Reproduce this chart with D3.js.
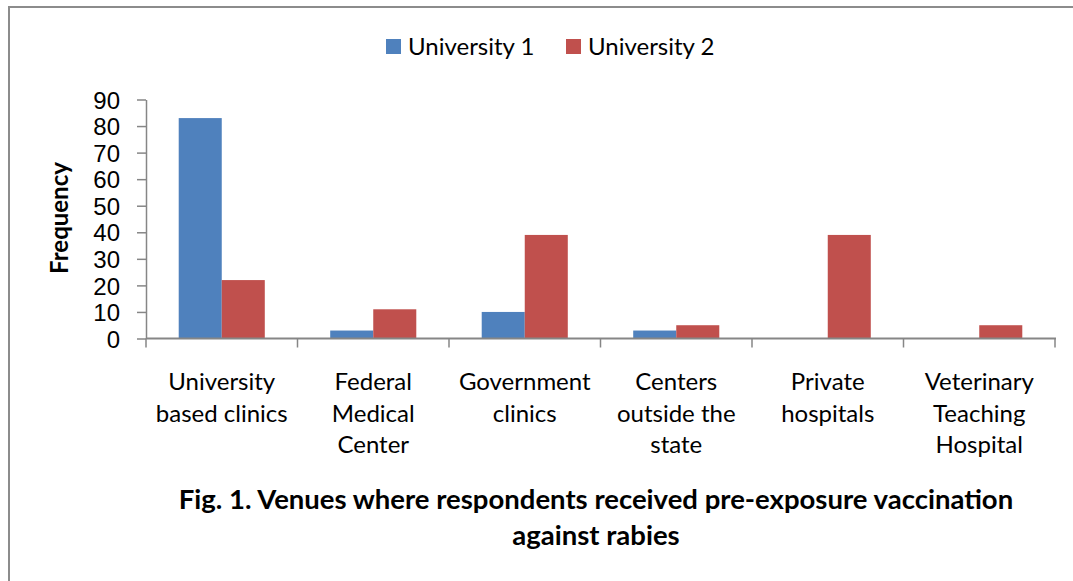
<!DOCTYPE html>
<html>
<head>
<meta charset="utf-8">
<script src="https://cdn.jsdelivr.net/npm/d3@7"></script>
<style>
  body { margin: 0; background: #fff; }
  svg { display: block; font-family: Lato, "Open Sans", sans-serif; }
</style>
</head>
<body>
<svg id="chart" width="1073" height="581"></svg>
<script>
// data
const categories = [
  ["University", "based clinics"],
  ["Federal", "Medical", "Center"],
  ["Government", "clinics"],
  ["Centers", "outside the", "state"],
  ["Private", "hospitals"],
  ["Veterinary", "Teaching", "Hospital"]
];
const seriesNames = ["University 1", "University 2"];
const uni1 = [83, 3, 10, 3, 0, 0];
const uni2 = [22, 11, 39, 5, 39, 5];
const yTicks = [0, 10, 20, 30, 40, 50, 60, 70, 80, 90];
const colors = ["#4F81BD", "#C0504D"];

const svg = d3.select("#chart");
const axisColor = "#868686";

// frame
svg.append("path")
  .attr("d", "M9,581 V7 H1073")
  .attr("fill", "none")
  .attr("stroke", "#8c8c8c")
  .attr("stroke-width", 2);

const catIdx = categories.map((c, i) => i);
const x = d3.scaleBand().domain(catIdx).range([146, 1055]).padding(0);
const xs = d3.scaleBand().domain([0, 1]).range([0, x.bandwidth()])
  .paddingInner(0).paddingOuter(0.76);
const y = d3.scaleLinear().domain([0, 90]).range([338.5, 99.5]);

// bars
const rows = catIdx.map(i => [uni1[i], uni2[i]]);
const groups = svg.selectAll(".grp")
  .data(rows)
  .enter()
  .append("g")
  .attr("class", "grp")
  .attr("transform", (d, i) => `translate(${x(i)},0)`);

groups.selectAll("rect")
  .data(d => d.map((v, s) => ({ v: v, s: s })))
  .enter()
  .append("rect")
  .attr("x", d => xs(d.s))
  .attr("width", xs.bandwidth())
  .attr("y", d => y(d.v))
  .attr("height", d => y(0) - y(d.v))
  .attr("fill", d => colors[d.s]);

// y axis
const yAxis = svg.append("g")
  .attr("transform", "translate(146,0)")
  .call(d3.axisLeft(y).tickValues(yTicks).tickSize(9).tickPadding(17).tickSizeOuter(0));
yAxis.select(".domain").attr("stroke", axisColor).attr("stroke-width", 1.5);
yAxis.selectAll(".tick line").attr("stroke", axisColor).attr("stroke-width", 1.5);
yAxis.selectAll(".tick text")
  .attr("fill", "#000")
  .style("font-size", "24px")
  .attr("dy", "0.36em");

// x axis line with ticks at category boundaries
svg.append("line")
  .attr("x1", 146).attr("x2", 1056)
  .attr("y1", y(0)).attr("y2", y(0))
  .attr("stroke", axisColor).attr("stroke-width", 2);
const bounds = catIdx.map(i => x(i)).concat([x.range()[1]]);
svg.selectAll(".xtick")
  .data(bounds)
  .enter()
  .append("line")
  .attr("class", "xtick")
  .attr("x1", d => d).attr("x2", d => d)
  .attr("y1", y(0)).attr("y2", y(0) + 9)
  .attr("stroke", axisColor).attr("stroke-width", 1.5);

// category labels
const labels = svg.selectAll(".xlab")
  .data(categories)
  .enter()
  .append("text")
  .attr("class", "xlab")
  .attr("text-anchor", "middle")
  .style("font-size", "24px")
  .attr("fill", "#000");
labels.each(function (lines, i) {
  d3.select(this).selectAll("tspan")
    .data(lines)
    .enter()
    .append("tspan")
    .attr("x", x(i) + x.bandwidth() / 2)
    .attr("y", (d, k) => 390 + k * 31.5)
    .text(d => d);
});

// y title
svg.append("text")
  .attr("transform", "translate(68,218) rotate(-90)")
  .attr("text-anchor", "middle")
  .style("font-size", "24px")
  .style("font-weight", "bold")
  .text("Frequency");

// legend
const legendX = [386, 566];
const leg = svg.selectAll(".leg")
  .data(seriesNames)
  .enter()
  .append("g")
  .attr("class", "leg")
  .attr("transform", (d, i) => `translate(${legendX[i]},39)`);
leg.append("rect")
  .attr("width", 15).attr("height", 15)
  .attr("fill", (d, i) => colors[i]);
leg.append("text")
  .attr("x", 22).attr("y", 16)
  .style("font-size", "24px")
  .text(d => d);

// caption
const caption = ["Fig. 1. Venues where respondents received pre-exposure vaccination", "against rabies"];
svg.selectAll(".cap")
  .data(caption)
  .enter()
  .append("text")
  .attr("class", "cap")
  .attr("x", 596)
  .attr("y", (d, i) => 509 + i * 36)
  .attr("text-anchor", "middle")
  .style("font-size", "27.5px")
  .style("font-weight", "bold")
  .text(d => d);
</script>
</body>
</html>
